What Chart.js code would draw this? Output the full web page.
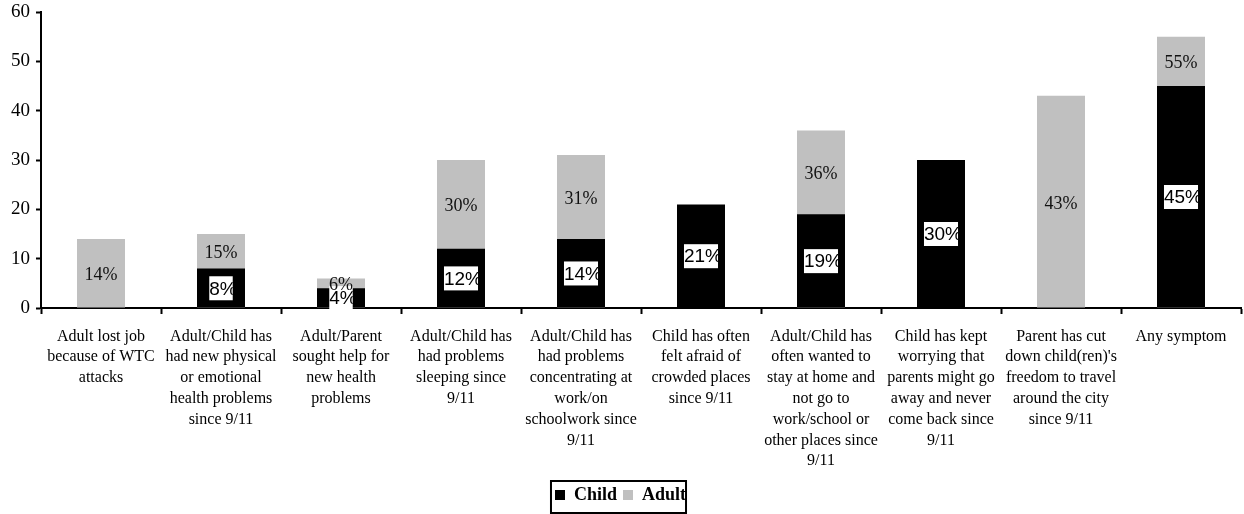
<!DOCTYPE html>
<html>
<head>
<meta charset="utf-8">
<script src="https://cdn.jsdelivr.net/npm/chart.js@4"></script>
<style>
  html, body { margin: 0; padding: 0; background: #fff; }
  #wrap { width: 1244px; height: 514px; }
</style>
</head>
<body>
<div id="wrap"><canvas id="wtcChart"></canvas></div>
<script>
const categories = [
    ['Adult lost job', 'because of WTC', 'attacks'],
    ['Adult/Child has', 'had new physical', 'or emotional', 'health problems', 'since 9/11'],
    ['Adult/Parent', 'sought help for', 'new health', 'problems'],
    ['Adult/Child has', 'had problems', 'sleeping since', '9/11'],
    ['Adult/Child has', 'had problems', 'concentrating at', 'work/on', 'schoolwork since', '9/11'],
    ['Child has often', 'felt afraid of', 'crowded places', 'since 9/11'],
    ['Adult/Child has', 'often wanted to', 'stay at home and', 'not go to', 'work/school or', 'other places since', '9/11'],
    ['Child has kept', 'worrying that', 'parents might go', 'away and never', 'come back since', '9/11'],
    ['Parent has cut', "down child(ren)'s", 'freedom to travel', 'around the city', 'since 9/11'],
    ['Any symptom']
];
const childValues = [null, 8, 4, 12, 14, 21, 19, 30, null, 45];
const adultValues = [14, 15, 6, 30, 31, null, 36, null, 43, 55];
const yTicks = [0, 10, 20, 30, 40, 50, 60];

const SERIF = '"Liberation Serif", "Times New Roman", serif';
const SANS = '"Liberation Sans", Arial, sans-serif';

// Etiquettes de valeur : blanc encadré sur les barres noires, texte simple sur les grises
const valueLabels = {
    id: 'valueLabels',
    afterDatasetsDraw(chart) {
        const ctx = chart.ctx;
        const y = chart.scales.y;
        const childMeta = chart.getDatasetMeta(0);
        const adultMeta = chart.getDatasetMeta(1);
        ctx.save();
        ctx.textBaseline = 'middle';

        ctx.font = '19px ' + SANS;
        childValues.forEach((v, i) => {
            if (v === null) return;
            const txt = v + '%';
            const cx = childMeta.data[i].x;
            const cy = y.getPixelForValue(v / 2);
            const w = ctx.measureText(txt).width - 4;
            const h = 24;
            ctx.fillStyle = '#fff';
            ctx.fillRect(cx - w / 2, cy - h / 2, w, h);
            ctx.save();
            ctx.beginPath();
            ctx.rect(cx - w / 2, cy - h / 2, w, h);
            ctx.clip();
            ctx.fillStyle = '#000';
            ctx.textAlign = 'left';
            ctx.fillText(txt, cx - w / 2, cy + 1);
            ctx.restore();
        });

        ctx.font = '18px ' + SERIF;
        ctx.fillStyle = '#111';
        ctx.textAlign = 'center';
        adultValues.forEach((v, i) => {
            if (v === null) return;
            const base = childValues[i] || 0;
            const cx = adultMeta.data[i].x;
            const cy = y.getPixelForValue((base + v) / 2) + 2;
            ctx.fillText(v + '%', cx, cy);
        });
        ctx.restore();
    }
};

// Cadre noir autour de la légende
const legendFrame = {
    id: 'legendFrame',
    afterDraw(chart) {
        const lg = chart.legend;
        if (!lg || !lg.legendHitBoxes || !lg.legendHitBoxes.length) return;
        const boxes = lg.legendHitBoxes;
        const first = boxes[0];
        const last = boxes[boxes.length - 1];
        const left = first.left - 4;
        const right = last.left + last.width;
        const ctx = chart.ctx;
        ctx.save();
        ctx.strokeStyle = '#000';
        ctx.lineWidth = 2;
        ctx.strokeRect(left, lg.top + 1, right - left, lg.height - 2);
        ctx.restore();
    }
};

const ctx = document.getElementById('wtcChart').getContext('2d');
const chart = new Chart(ctx, {
    type: 'bar',
    data: {
        labels: categories,
        datasets: [
            {
                label: 'Child',
                data: childValues,
                backgroundColor: '#000000',
                borderWidth: 0
            },
            {
                label: 'Adult',
                data: adultValues,
                backgroundColor: '#c0c0c0',
                borderWidth: 0
            }
        ]
    },
    options: {
        responsive: true,
        maintainAspectRatio: false,
        animation: false,
        devicePixelRatio: 1,
        grouped: false,
        barPercentage: 0.4,
        categoryPercentage: 1,
        layout: { padding: { top: 12, right: 3, bottom: 0, left: 0 } },
        scales: {
            x: {
                grid: {
                    display: true,
                    drawOnChartArea: false,
                    drawTicks: true,
                    tickLength: 6,
                    tickWidth: 2,
                    tickColor: '#000',
                    offset: true
                },
                border: { display: true, color: '#000', width: 2 },
                ticks: {
                    autoSkip: false,
                    maxRotation: 0,
                    minRotation: 0,
                    padding: 12,
                    color: '#000',
                    font: { family: SERIF, size: 16, lineHeight: 1.3 }
                },
                afterFit(scale) { scale.height = 172; }
            },
            y: {
                min: 0,
                max: 60,
                afterBuildTicks(scale) {
                    scale.ticks = yTicks.map(v => ({ value: v }));
                },
                grid: {
                    display: true,
                    drawOnChartArea: false,
                    drawTicks: true,
                    tickLength: 5,
                    tickWidth: 2,
                    tickColor: '#000'
                },
                border: { display: true, color: '#000', width: 2 },
                ticks: {
                    padding: 6,
                    color: '#000',
                    font: { family: SERIF, size: 19 }
                },
                afterFit(scale) {
                    scale.width = 41;
                    scale.paddingTop = 0;
                    scale.paddingBottom = 0;
                }
            }
        },
        plugins: {
            legend: {
                position: 'bottom',
                labels: {
                    boxWidth: 10,
                    boxHeight: 10,
                    padding: 6,
                    color: '#000',
                    font: { family: SERIF, size: 18, weight: 'bold' }
                }
            },
            tooltip: { enabled: false }
        }
    },
    plugins: [valueLabels, legendFrame]
});
</script>
</body>
</html>
